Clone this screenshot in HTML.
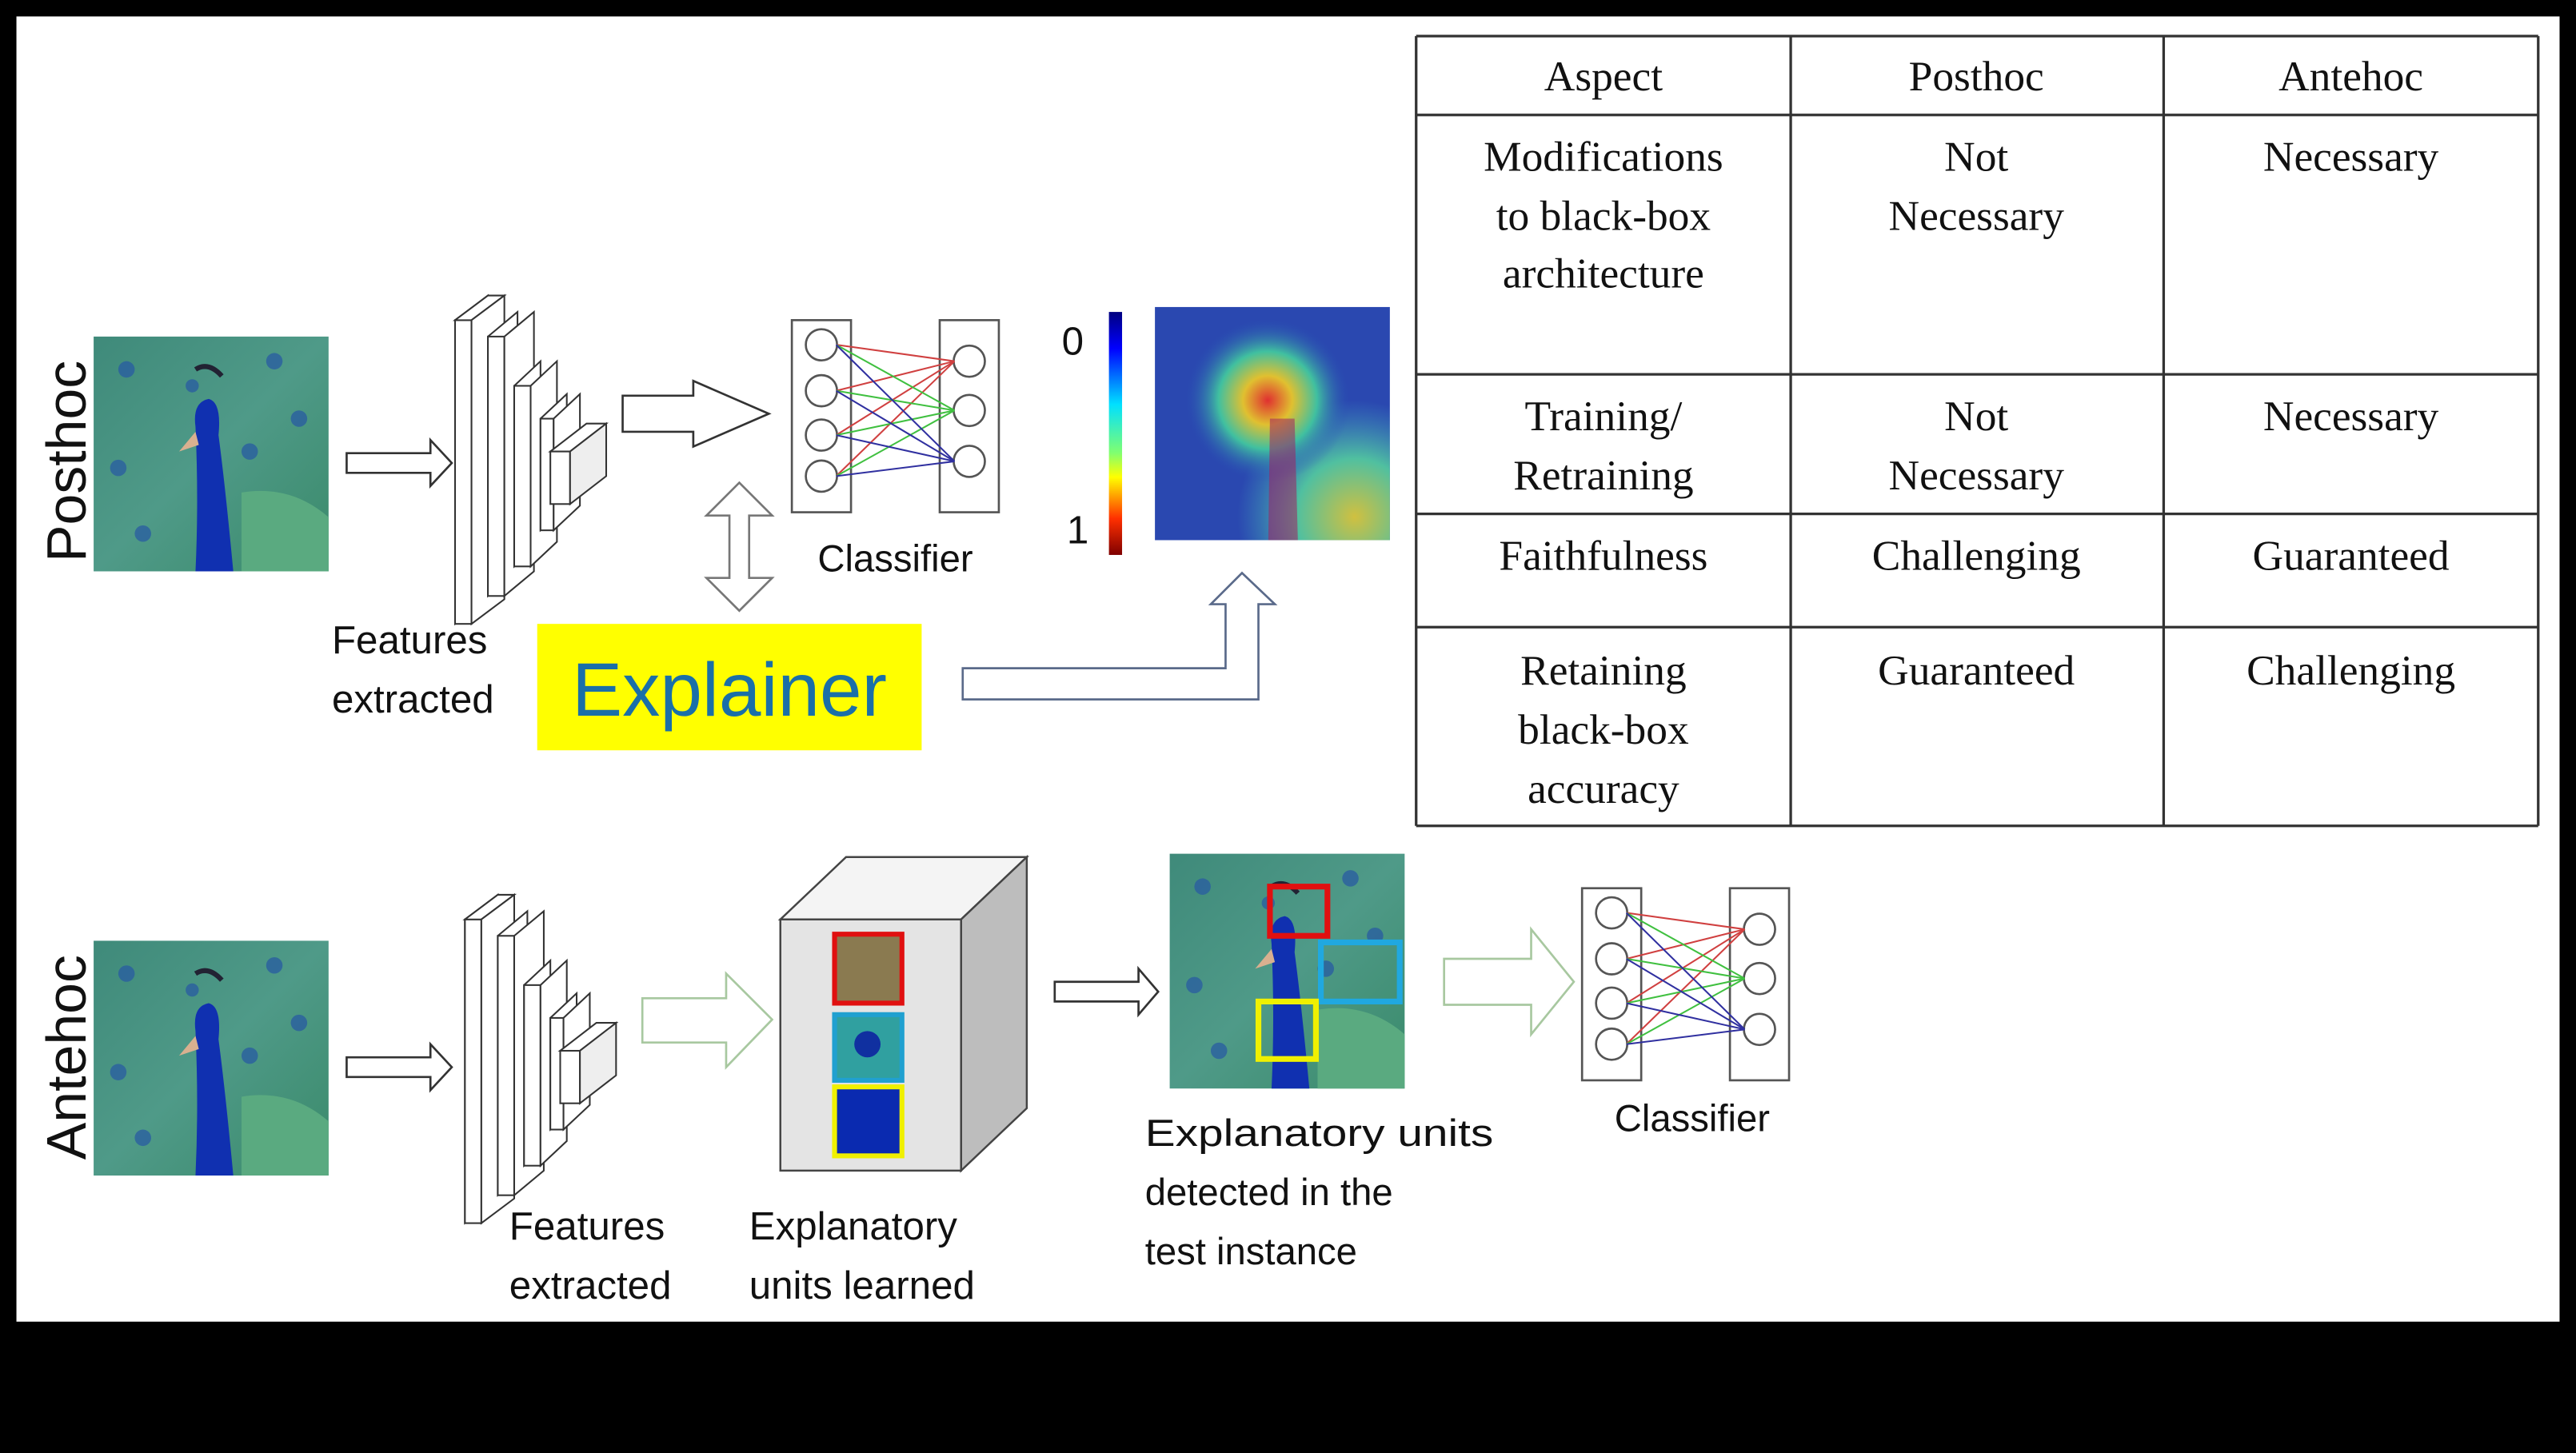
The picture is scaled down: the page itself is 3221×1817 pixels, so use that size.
<!DOCTYPE html>
<html><head><meta charset="utf-8"><style>
html,body{margin:0;padding:0;background:#000;}
svg{display:block;}
.s{font-family:"Liberation Sans",sans-serif;fill:#111;}
.r{font-family:"Liberation Serif",serif;fill:#111;font-size:26px;text-anchor:middle;}
</style></head><body>
<svg width="3221" height="1817" viewBox="0 0 1568 885" preserveAspectRatio="none" xmlns="http://www.w3.org/2000/svg">
<defs>
<linearGradient id="cb" x1="0" y1="0" x2="0" y2="1">
<stop offset="0" stop-color="#00007f"/><stop offset="0.15" stop-color="#0000ff"/><stop offset="0.38" stop-color="#00e0ff"/><stop offset="0.58" stop-color="#80ff70"/><stop offset="0.68" stop-color="#ffff00"/><stop offset="0.85" stop-color="#ff3000"/><stop offset="1" stop-color="#7f0000"/></linearGradient>
<radialGradient id="hm" cx="0.48" cy="0.4" r="0.35"><stop offset="0" stop-color="#e03030"/><stop offset="0.3" stop-color="#e0c030"/><stop offset="0.6" stop-color="#40c0a0"/><stop offset="1" stop-color="#2a50b8" stop-opacity="0"/></radialGradient>
<radialGradient id="hm2" cx="0.85" cy="0.9" r="0.5"><stop offset="0" stop-color="#d0c040"/><stop offset="0.5" stop-color="#50c0a0"/><stop offset="1" stop-color="#40a0c0" stop-opacity="0"/></radialGradient>
<linearGradient id="pb" x1="0" y1="0" x2="1" y2="1"><stop offset="0" stop-color="#3f8a7a"/><stop offset="0.5" stop-color="#4f9a88"/><stop offset="1" stop-color="#3a8a6a"/></linearGradient>
<g id="pea">
<rect x="0" y="0" width="143" height="143" fill="url(#pb)"/>
<g fill="#2a5fa0" opacity="0.8"><circle cx="20" cy="20" r="5"/><circle cx="110" cy="15" r="5"/><circle cx="125" cy="50" r="5"/><circle cx="95" cy="70" r="5"/><circle cx="15" cy="80" r="5"/><circle cx="30" cy="120" r="5"/><circle cx="130" cy="110" r="5"/><circle cx="60" cy="30" r="4"/></g>
<path d="M90 95 Q120 90 143 110 L143 143 L90 143 Z" fill="#5aaa80"/>
<path d="M62 55 Q60 40 70 38 Q78 40 76 60 Q80 90 85 143 L62 143 Q64 100 62 55Z" fill="#1030b0"/>
<path d="M62 58 L52 70 L64 66Z" fill="#d8b090"/>
<path d="M62 20 Q70 15 78 24" stroke="#223" stroke-width="3" fill="none"/>
</g>
<g id="cnn" stroke="#333" stroke-width="1" fill="#fff">
<polygon points="0,15 20,0 20,185 0,200"/><rect x="0" y="15" width="10" height="185"/><polygon points="10,15 30,0 20,0 0,15"/><polygon points="10,15 30,0 30,185 10,200"/>
<polygon points="20,25 38,10 38,168 20,183"/><rect x="20" y="25" width="10" height="158"/><polygon points="30,25 48,10 48,168 30,183"/>
<polygon points="36,55 52,40 52,150 36,165"/><rect x="36" y="55" width="10" height="110"/><polygon points="46,55 62,40 62,150 46,165"/>
<polygon points="52,75 68,60 68,128 52,143"/><rect x="52" y="75" width="8" height="68"/><polygon points="60,75 76,60 76,128 60,143"/>
<polygon points="58,95 80,78 92,78 70,95"/><rect x="58" y="95" width="12" height="32"/><polygon points="70,95 92,78 92,110 70,127" fill="#eee"/>
</g>
<g id="clf" stroke="#555" stroke-width="1.3" fill="#fff">
<rect x="0" y="0" width="36" height="117"/><rect x="90" y="0" width="36" height="117"/>
<circle cx="18" cy="15" r="9.5"/><circle cx="18" cy="43" r="9.5"/><circle cx="18" cy="70" r="9.5"/><circle cx="18" cy="95" r="9.5"/>
<circle cx="108" cy="25" r="9.5"/><circle cx="108" cy="55" r="9.5"/><circle cx="108" cy="86" r="9.5"/>
<g stroke-width="1" fill="none">
<line x1="27" y1="15" x2="99" y2="25" stroke="#d04040"/><line x1="27" y1="43" x2="99" y2="25" stroke="#d04040"/><line x1="27" y1="70" x2="99" y2="25" stroke="#d04040"/><line x1="27" y1="95" x2="99" y2="25" stroke="#d04040"/>
<line x1="27" y1="15" x2="99" y2="55" stroke="#40c040"/><line x1="27" y1="43" x2="99" y2="55" stroke="#40c040"/><line x1="27" y1="70" x2="99" y2="55" stroke="#40c040"/><line x1="27" y1="95" x2="99" y2="55" stroke="#40c040"/>
<line x1="27" y1="15" x2="99" y2="86" stroke="#3030a0"/><line x1="27" y1="43" x2="99" y2="86" stroke="#3030a0"/><line x1="27" y1="70" x2="99" y2="86" stroke="#3030a0"/><line x1="27" y1="95" x2="99" y2="86" stroke="#3030a0"/>
</g></g>
</defs>
<rect x="0" y="0" width="1568" height="885" fill="#000"/>
<rect x="10" y="10" width="1548" height="795" fill="#fff"/>

<!-- table -->
<g stroke="#333" stroke-width="1.6">
<line x1="862" y1="22" x2="862" y2="503"/><line x1="1090" y1="22" x2="1090" y2="503"/><line x1="1317" y1="22" x2="1317" y2="503"/><line x1="1545" y1="22" x2="1545" y2="503"/>
<line x1="862" y1="22" x2="1545" y2="22"/><line x1="862" y1="70" x2="1545" y2="70"/><line x1="862" y1="228" x2="1545" y2="228"/><line x1="862" y1="313" x2="1545" y2="313"/><line x1="862" y1="382" x2="1545" y2="382"/><line x1="862" y1="503" x2="1545" y2="503"/>
</g>
<text class="r" x="976" y="55">Aspect</text><text class="r" x="1203" y="55">Posthoc</text><text class="r" x="1431" y="55">Antehoc</text>
<text class="r" x="976" y="104">Modifications</text><text class="r" x="976" y="140">to black-box</text><text class="r" x="976" y="175">architecture</text>
<text class="r" x="1203" y="104">Not</text><text class="r" x="1203" y="140">Necessary</text><text class="r" x="1431" y="104">Necessary</text>
<text class="r" x="976" y="262">Training/</text><text class="r" x="976" y="298">Retraining</text>
<text class="r" x="1203" y="262">Not</text><text class="r" x="1203" y="298">Necessary</text><text class="r" x="1431" y="262">Necessary</text>
<text class="r" x="976" y="347">Faithfulness</text><text class="r" x="1203" y="347">Challenging</text><text class="r" x="1431" y="347">Guaranteed</text>
<text class="r" x="976" y="417">Retaining</text><text class="r" x="976" y="453">black-box</text><text class="r" x="976" y="489">accuracy</text>
<text class="r" x="1203" y="417">Guaranteed</text><text class="r" x="1431" y="417">Challenging</text>

<!-- Posthoc row -->
<text class="s" font-size="34" text-anchor="middle" transform="translate(52,281) rotate(-90)">Posthoc</text>
<use href="#pea" x="57" y="205"/>
<polygon points="211,276 262,276 262,268 275,282 262,296 262,288 211,288" fill="#fff" stroke="#333" stroke-width="1.3"/>
<use href="#cnn" x="277" y="180"/>
<polygon points="379,241 422,241 422,232 468,252 422,272 422,263 379,263" fill="#fff" stroke="#333" stroke-width="1.3"/>
<use href="#clf" x="482" y="195"/>
<text class="s" x="545" y="348" font-size="23" text-anchor="middle">Classifier</text>
<polygon points="450,294 470,314 456,314 456,352 470,352 450,372 430,352 444,352 444,314 430,314" fill="#fff" stroke="#777" stroke-width="1.3"/>
<rect x="675" y="190" width="8" height="148" fill="url(#cb)"/>
<text class="s" x="653" y="216" font-size="24" text-anchor="middle">0</text>
<text class="s" x="656" y="331" font-size="24" text-anchor="middle">1</text>
<rect x="703" y="187" width="143" height="142" fill="#2a48b0"/>
<rect x="703" y="187" width="143" height="142" fill="url(#hm2)"/>
<rect x="703" y="187" width="143" height="142" fill="url(#hm)"/>
<path d="M773 255 L788 255 L790 329 L772 329Z" fill="#a02060" opacity="0.55"/>
<text class="s" x="202" y="398" font-size="24">Features</text>
<text class="s" x="202" y="434" font-size="24">extracted</text>
<rect x="327" y="380" width="234" height="77" fill="#ffff00"/>
<text x="444" y="436" font-family="Liberation Sans,sans-serif" font-size="46" fill="#1a6fa8" text-anchor="middle">Explainer</text>
<polygon points="586,407 746,407 746,368 737,368 756,349 776,368 766,368 766,426 586,426" fill="#fff" stroke="#5a6a8a" stroke-width="1.3"/>

<!-- Antehoc row -->
<text class="s" font-size="34" text-anchor="middle" transform="translate(52,644) rotate(-90)">Antehoc</text>
<use href="#pea" x="57" y="573"/>
<polygon points="211,644 262,644 262,636 275,650 262,664 262,656 211,656" fill="#fff" stroke="#333" stroke-width="1.3"/>
<use href="#cnn" x="283" y="545"/>
<polygon points="391,608 442,608 442,593 470,621 442,650 442,635 391,635" fill="#fff" stroke="#a8c8a0" stroke-width="1.3"/>
<polygon points="475,560 515,522 625,522 585,560" fill="#f4f4f4" stroke="#444" stroke-width="1.2"/>
<polygon points="585,560 625,522 625,675 585,713" fill="#bdbdbd" stroke="#444" stroke-width="1.2"/>
<rect x="475" y="560" width="110" height="153" fill="#e4e4e4" stroke="#444" stroke-width="1.2"/>
<rect x="508" y="569" width="41" height="42" fill="#8a7a50" stroke="#e01010" stroke-width="3"/>
<rect x="508" y="618" width="41" height="40" fill="#30a0a0" stroke="#20a0d0" stroke-width="3"/>
<circle cx="528" cy="636" r="8" fill="#1030a0"/>
<rect x="508" y="662" width="41" height="42" fill="#0a2ab0" stroke="#f0f000" stroke-width="3"/>
<text class="s" x="310" y="755" font-size="24">Features</text>
<text class="s" x="310" y="791" font-size="24">extracted</text>
<text class="s" x="456" y="755" font-size="24">Explanatory</text>
<text class="s" x="456" y="791" font-size="24">units learned</text>
<polygon points="642,598 693,598 693,590 705,604 693,618 693,610 642,610" fill="#fff" stroke="#333" stroke-width="1.3"/>
<use href="#pea" x="712" y="520"/>
<rect x="773" y="540" width="35" height="30" fill="none" stroke="#e01010" stroke-width="3.5"/>
<rect x="804" y="574" width="48" height="36" fill="none" stroke="#20a8e0" stroke-width="3.5"/>
<rect x="766" y="610" width="35" height="35" fill="none" stroke="#f0f000" stroke-width="3.5"/>
<polygon points="879,584 932,584 932,566 958,598 932,630 932,612 879,612" fill="#fff" stroke="#a8c8a0" stroke-width="1.3"/>
<use href="#clf" x="963" y="541"/>
<text class="s" x="1030" y="689" font-size="23" text-anchor="middle">Classifier</text>
<text class="s" x="697" y="698" font-size="23" textLength="212" lengthAdjust="spacingAndGlyphs">Explanatory units</text>
<text class="s" x="697" y="734" font-size="23">detected in the</text>
<text class="s" x="697" y="770" font-size="23">test instance</text>
</svg>
</body></html>
